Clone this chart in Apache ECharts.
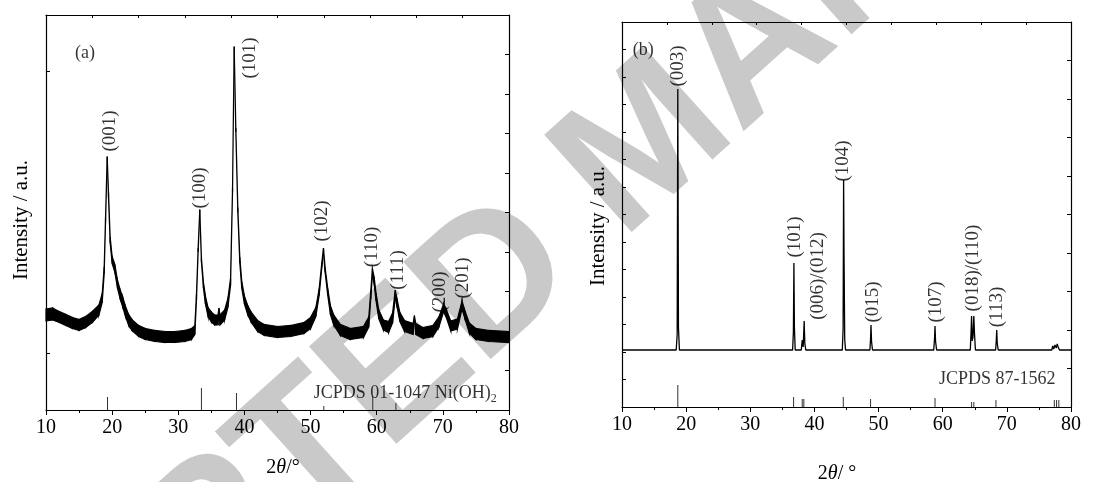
<!DOCTYPE html>
<html>
<head>
<meta charset="utf-8">
<script src="https://cdn.jsdelivr.net/npm/echarts@6/dist/echarts.min.js"></script>
<style>
  html, body { margin: 0; padding: 0; background: #fff; }
  #chart { width: 1113px; height: 482px; }
</style>
</head>
<body>
<div id="chart"></div>
<script>
// (a) Ni(OH)2 pattern: 2theta, trace height, noise band thickness
var aAngle = [10, 11, 12, 13, 14, 15, 16, 17, 18, 18.5,
  18.8, 19.0, 19.25, 19.45, 19.7, 20.0, 20.4, 20.8, 21.2, 21.6,
  22.0, 22.5, 23.0, 24.0, 25.0, 26.5, 28.0, 29.5, 31.0, 32.0,
  32.5, 32.75, 33.0, 33.25, 33.5, 33.8, 34.1, 34.5, 35.0, 35.5,
  36.0, 36.15, 36.3, 37.0, 37.5, 37.9, 38.2, 38.45, 38.7, 39.0,
  39.3, 39.6, 40.0, 40.5, 41.0, 42.0, 43.0, 45.0, 47.0, 49.0,
  50.0, 50.8, 51.3, 51.7, 51.95, 52.2, 52.6, 53.0, 53.5, 54.5,
  56.0, 58.0, 58.8, 59.1, 59.35, 59.6, 59.9, 60.3, 61.0, 61.8,
  62.4, 62.8, 63.1, 63.5, 64.2, 65.5, 65.7, 65.9, 67.0, 68.5,
  69.4, 70.1, 70.5, 71.2, 72.2, 72.9, 73.3, 74.0, 75.0, 77.0,
  80.0];
var aHeight = [95, 96, 93, 90, 87, 85, 88, 93, 100, 112,
  140, 190, 252, 215, 170, 150, 142, 126, 116, 108,
  99, 90, 85, 79, 76, 74, 73, 73, 74, 76,
  80, 113, 160, 199, 150, 125, 110, 98, 93, 90,
  90, 100, 90, 95, 107, 128, 220, 362, 280, 200,
  150, 125, 110, 100, 93, 84, 80, 78, 79, 82,
  87, 98, 118, 145, 160, 140, 118, 100, 90, 80,
  76, 78, 88, 115, 138, 130, 113, 96, 85, 83,
  92, 116, 106, 93, 84, 81, 93, 81, 77, 79,
  88, 102, 97, 84, 86, 105, 96, 82, 76, 74,
  73];
var aNoise = [12, 12, 11, 11, 11, 11, 11, 11, 10, 9,
  7, 5, 3, 5, 6, 7, 8, 8, 9, 10,
  10, 11, 11, 11, 11, 11, 11, 11, 11, 11,
  9, 6, 4, 3, 4, 6, 8, 9, 10, 10,
  10, 4, 10, 10, 9, 7, 4, 3, 4, 5,
  6, 7, 8, 9, 10, 11, 11, 11, 11, 11,
  11, 9, 7, 5, 4, 5, 7, 9, 10, 11,
  11, 11, 10, 8, 7, 7, 8, 9, 10, 11,
  10, 8, 8, 9, 11, 11, 3, 11, 11, 11,
  10, 8, 8, 10, 10, 8, 8, 10, 11, 11,
  11];
var aRefAngle = [19.3, 33.5, 38.8, 52.0, 59.4, 62.9];
var aRefHeight = [13, 22, 17, 4, 14, 7];
var aPeakNames = ['(001)', '(100)', '(101)', '(102)', '(110)', '(111)', '(200)', '(201)'];
var aPeakAngle = [19.7, 33.3, 40.8, 51.7, 59.3, 63.2, 69.6, 73.0];
var aPeakHeight = [279, 222, 352, 189, 163, 140, 118, 132];

// (b) pattern: 2theta, intensity
var bAngle = [10, 14, 18.45, 18.6, 18.7, 18.8, 18.95, 25, 32,
  36.6, 36.72, 36.8, 36.88, 37.0,
  37.95, 38.1, 38.25, 38.4, 38.5, 38.65, 42,
  44.35, 44.47, 44.55, 44.62, 44.72, 44.85,
  48.65, 48.75, 48.82, 48.9, 49.05, 54,
  58.6, 58.72, 58.8, 58.88, 59.05,
  64.3, 64.42, 64.5, 64.6, 64.72, 64.85, 64.95, 65.1,
  68.25, 68.35, 68.42, 68.5, 68.65, 75,
  77.0, 77.15, 77.3, 77.5, 77.7, 77.85, 78.0, 78.2, 80];
var bHeight = [57, 57, 57, 72, 318, 80, 57, 57, 57,
  57, 75, 144, 80, 57,
  57, 67, 60, 86, 64, 57, 57,
  57, 78, 227, 148, 68, 57,
  57, 68, 82, 66, 57, 57,
  57, 68, 81, 66, 57,
  57, 75, 91, 66, 70, 91, 74, 57,
  57, 66, 77, 64, 57, 57,
  57, 61, 58, 62, 59, 63, 60, 57, 57];
var bRefAngle = [18.7, 36.75, 38.1, 38.35, 44.5, 48.75, 58.8, 64.5, 64.85, 68.3, 77.4, 77.75, 78.1];
var bRefHeight = [22, 10, 8, 8, 10, 8, 9, 5, 5, 7, 7, 7, 7];
var bPeakNames = ['(003)', '(101)', '(006)/(012)', '(104)', '(015)', '(107)', '(018)/(110)', '(113)'];
var bPeakAngle = [18.7, 37.0, 40.6, 44.5, 49.1, 59.0, 64.7, 68.5];
var bPeakHeight = [341, 170, 131, 246, 105, 105, 139, 100];

var SERIF = "'Liberation Serif', 'Times New Roman', serif";

function pairs(xs, ys) {
  return xs.map(function (x, i) { return [x, ys[i]]; });
}

// bottom axis with labels + opposite axis with its own tick count
function bottomAxis(gi) {
  return {
    type: 'value', gridIndex: gi, position: 'bottom', min: 10, max: 80, interval: 10,
    axisLine: { lineStyle: { color: '#000', width: 1.2 } },
    axisTick: { inside: false, length: 5, lineStyle: { color: '#000' } },
    minorTick: { show: true, splitNumber: 2, length: 3, lineStyle: { color: '#000' } },
    axisLabel: { color: '#000', fontFamily: SERIF, fontSize: 20, margin: 8 },
    splitLine: { show: false }
  };
}
function topAxis(gi) {
  return {
    type: 'value', gridIndex: gi, position: 'top', min: 0, max: 10, interval: 1,
    axisLine: { onZero: false, lineStyle: { color: '#000', width: 1.2 } },
    axisTick: { inside: true, length: 3, lineStyle: { color: '#000' } },
    axisLabel: { show: false }, splitLine: { show: false }
  };
}
function sideAxis(gi, pos, max, interval, custom) {
  var tick = { inside: true, length: 4, lineStyle: { color: '#000' } };
  if (custom) tick.customValues = custom;
  return {
    type: 'value', gridIndex: gi, position: pos, min: 0, max: max, interval: interval,
    axisLine: { show: true, onZero: false, lineStyle: { color: '#000', width: 1.2 } },
    axisTick: tick,
    axisLabel: { show: false }, splitLine: { show: false }
  };
}

function labelSeries(xi, names, xs, ys, rotate) {
  return {
    type: 'scatter', xAxisIndex: xi, yAxisIndex: xi, symbolSize: 0, silent: true, z: 5,
    data: names.map(function (n, i) { return { name: n, value: [xs[i], ys[i]] }; }),
    label: {
      show: true, position: 'inside', rotate: rotate, formatter: '{b}',
      fontFamily: SERIF, fontSize: 19, color: '#000'
    }
  };
}

var chart = echarts.init(document.getElementById('chart'));

// noise band of (a): [angle, lower edge, upper edge]
var aBand = aAngle.map(function (x, i) {
  return [x, aHeight[i] - aNoise[i] / 2, aHeight[i] + aNoise[i] / 2];
});

var option = {
  animation: false,
  grid: [
    { left: 46, top: 15, width: 463, height: 395 },
    { left: 622, top: 22, width: 449, height: 385 }
  ],
  xAxis: [bottomAxis(0), topAxis(0), bottomAxis(1), topAxis(1)],
  yAxis: [
    sideAxis(0, 'left', 395, 395, [57, 339]),
    sideAxis(0, 'right', 395, 39.5),
    sideAxis(1, 'left', 385, 27.5),
    sideAxis(1, 'right', 385, 38.5)
  ],
  series: [
    {
      type: 'custom', xAxisIndex: 0, yAxisIndex: 0, silent: true,
      data: aBand,
      encode: { x: 0, y: [1, 2] },
      renderItem: function (params, api) {
        var i = params.dataIndex;
        if (i >= aBand.length - 1) return null;
        var p = aBand[i], q = aBand[i + 1];
        return {
          type: 'polygon',
          shape: { points: [api.coord([p[0], p[1]]), api.coord([q[0], q[1]]), api.coord([q[0], q[2]]), api.coord([p[0], p[2]])] },
          style: { fill: '#000', stroke: '#000', lineWidth: 1.2 }
        };
      }
    },
    {
      type: 'bar', xAxisIndex: 0, yAxisIndex: 0, barWidth: 1,
      data: pairs(aRefAngle, aRefHeight), itemStyle: { color: '#333' }
    },
    labelSeries(0, aPeakNames, aPeakAngle, aPeakHeight, 90),
    {
      type: 'scatter', xAxisIndex: 0, yAxisIndex: 0, symbolSize: 0, silent: true,
      data: [
        { name: '(a)', value: [15.9, 357] },
        { name: 'JCPDS 01-1047 Ni(OH){s|2}', value: [64.3, 17] }
      ],
      label: {
        show: true, position: 'inside', formatter: '{b}', fontFamily: SERIF, fontSize: 18, color: '#000',
        rich: { s: { fontFamily: SERIF, fontSize: 12, color: '#000', padding: [12, 0, 0, 0] } }
      }
    },
    {
      type: 'line', xAxisIndex: 2, yAxisIndex: 2, symbol: 'none',
      data: pairs(bAngle, bHeight),
      lineStyle: { color: '#000', width: 1.3 }
    },
    {
      type: 'bar', xAxisIndex: 2, yAxisIndex: 2, barWidth: 1,
      data: pairs(bRefAngle, bRefHeight), itemStyle: { color: '#333' }
    },
    labelSeries(2, bPeakNames, bPeakAngle, bPeakHeight, 90),
    {
      type: 'scatter', xAxisIndex: 2, yAxisIndex: 2, symbolSize: 0, silent: true,
      data: [
        { name: '(b)', value: [13.3, 357] },
        { name: 'JCPDS 87-1562', value: [68.5, 28] }
      ],
      label: { show: true, position: 'inside', formatter: '{b}', fontFamily: SERIF, fontSize: 18, color: '#000' }
    }
  ],
  graphic: [
    {
      type: 'text', x: 650, y: 145, rotation: 42 * Math.PI / 180, z: -10, silent: true,
      style: {
        text: 'ACCEPTED MANUSCRIPT', font: "bold 190px 'Liberation Sans', Arial, sans-serif",
        fill: '#c9c9c9', align: 'center', verticalAlign: 'middle'
      }
    },
    {
      type: 'text', x: 21, y: 220, rotation: Math.PI / 2,
      style: { text: 'Intensity / a.u.', font: '21px ' + SERIF, fill: '#000', align: 'center', verticalAlign: 'middle' }
    },
    {
      type: 'text', x: 598, y: 226, rotation: Math.PI / 2,
      style: { text: 'Intensity / a.u.', font: '21px ' + SERIF, fill: '#000', align: 'center', verticalAlign: 'middle' }
    },
    {
      type: 'text', x: 283, y: 468,
      style: {
        text: '2{i|θ}/°', font: '20px ' + SERIF, fill: '#000', align: 'center', verticalAlign: 'middle',
        rich: { i: { fontStyle: 'italic', fontFamily: SERIF, fontSize: 20 } }
      }
    },
    {
      type: 'text', x: 837, y: 474,
      style: {
        text: '2{i|θ}/ °', font: '20px ' + SERIF, fill: '#000', align: 'center', verticalAlign: 'middle',
        rich: { i: { fontStyle: 'italic', fontFamily: SERIF, fontSize: 20 } }
      }
    }
  ]
};

chart.setOption(option);

window.addEventListener('resize', function () {
  chart.resize();
});
</script>
</body>
</html>
